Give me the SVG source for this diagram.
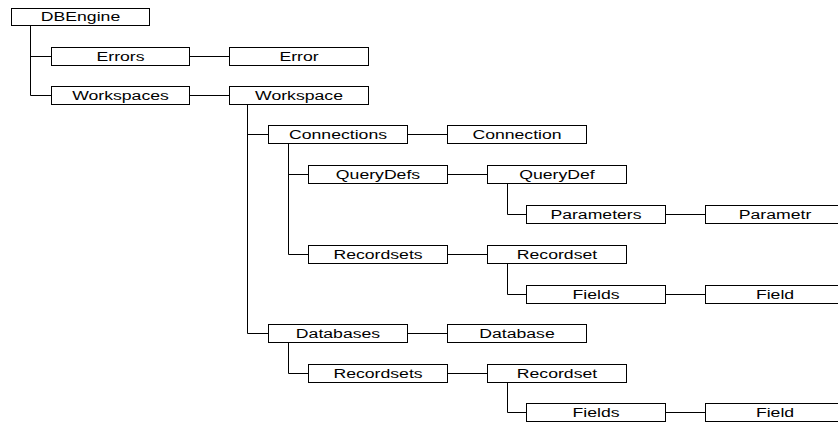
<svg xmlns="http://www.w3.org/2000/svg" width="838" height="423" viewBox="0 0 838 423">
<style>
rect{fill:#fff;stroke:#000;stroke-width:1}
text{font-family:"Liberation Sans",Arial,sans-serif;font-size:12px;fill:#000;text-anchor:middle}
.c path{fill:none;stroke:#000;stroke-width:1}
</style>
<rect x="0" y="0" width="838" height="423" style="stroke:none"/>
<g class="c" id="connectors">
<path d="M30.5 25V95.5H51M30.5 56.5H51"/>
<path d="M189 56.5H229M189 95.5H229"/>
<path d="M247.5 104V333.5H268M247.5 134.5H268"/>
<path d="M408 134.5H447"/>
<path d="M288.5 143V254.5H308M288.5 174.5H308"/>
<path d="M447 174.5H487"/>
<path d="M507.5 183V214.5H526"/>
<path d="M665 214.5H705"/>
<path d="M447 254.5H487"/>
<path d="M507.5 263V294.5H526"/>
<path d="M665 294.5H705"/>
<path d="M407 333.5H447"/>
<path d="M288.5 342V373.5H308"/>
<path d="M447 373.5H487"/>
<path d="M507.5 382V412.5H526"/>
<path d="M665 412.5H705"/>
</g>
<g id="DBEngine"><rect x="11.5" y="8.5" width="138" height="17"/><text transform="translate(80.5,21) scale(1.47,1)">DBEngine</text></g>
<g id="Errors"><rect x="51.5" y="47.5" width="138" height="18"/><text transform="translate(120.5,61) scale(1.47,1)">Errors</text></g>
<g id="Error"><rect x="229.5" y="47.5" width="139" height="18"/><text transform="translate(299,61) scale(1.47,1)">Error</text></g>
<g id="Workspaces"><rect x="51.5" y="86.5" width="138" height="18"/><text transform="translate(120.5,100) scale(1.47,1)">Workspaces</text></g>
<g id="Workspace"><rect x="229.5" y="86.5" width="139" height="18"/><text transform="translate(299,100) scale(1.47,1)">Workspace</text></g>
<g id="Connections"><rect x="268.5" y="125.5" width="139" height="18"/><text transform="translate(338,139) scale(1.47,1)">Connections</text></g>
<g id="Connection"><rect x="447.5" y="125.5" width="139" height="18"/><text transform="translate(517,139) scale(1.47,1)">Connection</text></g>
<g id="QueryDefs"><rect x="308.5" y="165.5" width="139" height="18"/><text transform="translate(378,179) scale(1.47,1)">QueryDefs</text></g>
<g id="QueryDef"><rect x="487.5" y="165.5" width="139" height="18"/><text transform="translate(557,179) scale(1.47,1)">QueryDef</text></g>
<g id="Parameters"><rect x="526.5" y="205.5" width="139" height="18"/><text transform="translate(596,219) scale(1.47,1)">Parameters</text></g>
<g id="Parametr"><rect x="705.5" y="205.5" width="139" height="18"/><text transform="translate(775,219) scale(1.47,1)">Parametr</text></g>
<g id="Recordsets1"><rect x="308.5" y="245.5" width="139" height="18"/><text transform="translate(378,259) scale(1.47,1)">Recordsets</text></g>
<g id="Recordset1"><rect x="487.5" y="245.5" width="139" height="18"/><text transform="translate(557,259) scale(1.47,1)">Recordset</text></g>
<g id="Fields1"><rect x="526.5" y="285.5" width="139" height="18"/><text transform="translate(596,299) scale(1.47,1)">Fields</text></g>
<g id="Field1"><rect x="705.5" y="285.5" width="139" height="18"/><text transform="translate(775,299) scale(1.47,1)">Field</text></g>
<g id="Databases"><rect x="268.5" y="324.5" width="139" height="18"/><text transform="translate(338,338) scale(1.47,1)">Databases</text></g>
<g id="Database"><rect x="447.5" y="324.5" width="139" height="18"/><text transform="translate(517,338) scale(1.47,1)">Database</text></g>
<g id="Recordsets2"><rect x="308.5" y="364.5" width="139" height="18"/><text transform="translate(378,378) scale(1.47,1)">Recordsets</text></g>
<g id="Recordset2"><rect x="487.5" y="364.5" width="139" height="18"/><text transform="translate(557,378) scale(1.47,1)">Recordset</text></g>
<g id="Fields2"><rect x="526.5" y="403.5" width="139" height="18"/><text transform="translate(596,417) scale(1.47,1)">Fields</text></g>
<g id="Field2"><rect x="705.5" y="403.5" width="139" height="18"/><text transform="translate(775,417) scale(1.47,1)">Field</text></g>
</svg>
